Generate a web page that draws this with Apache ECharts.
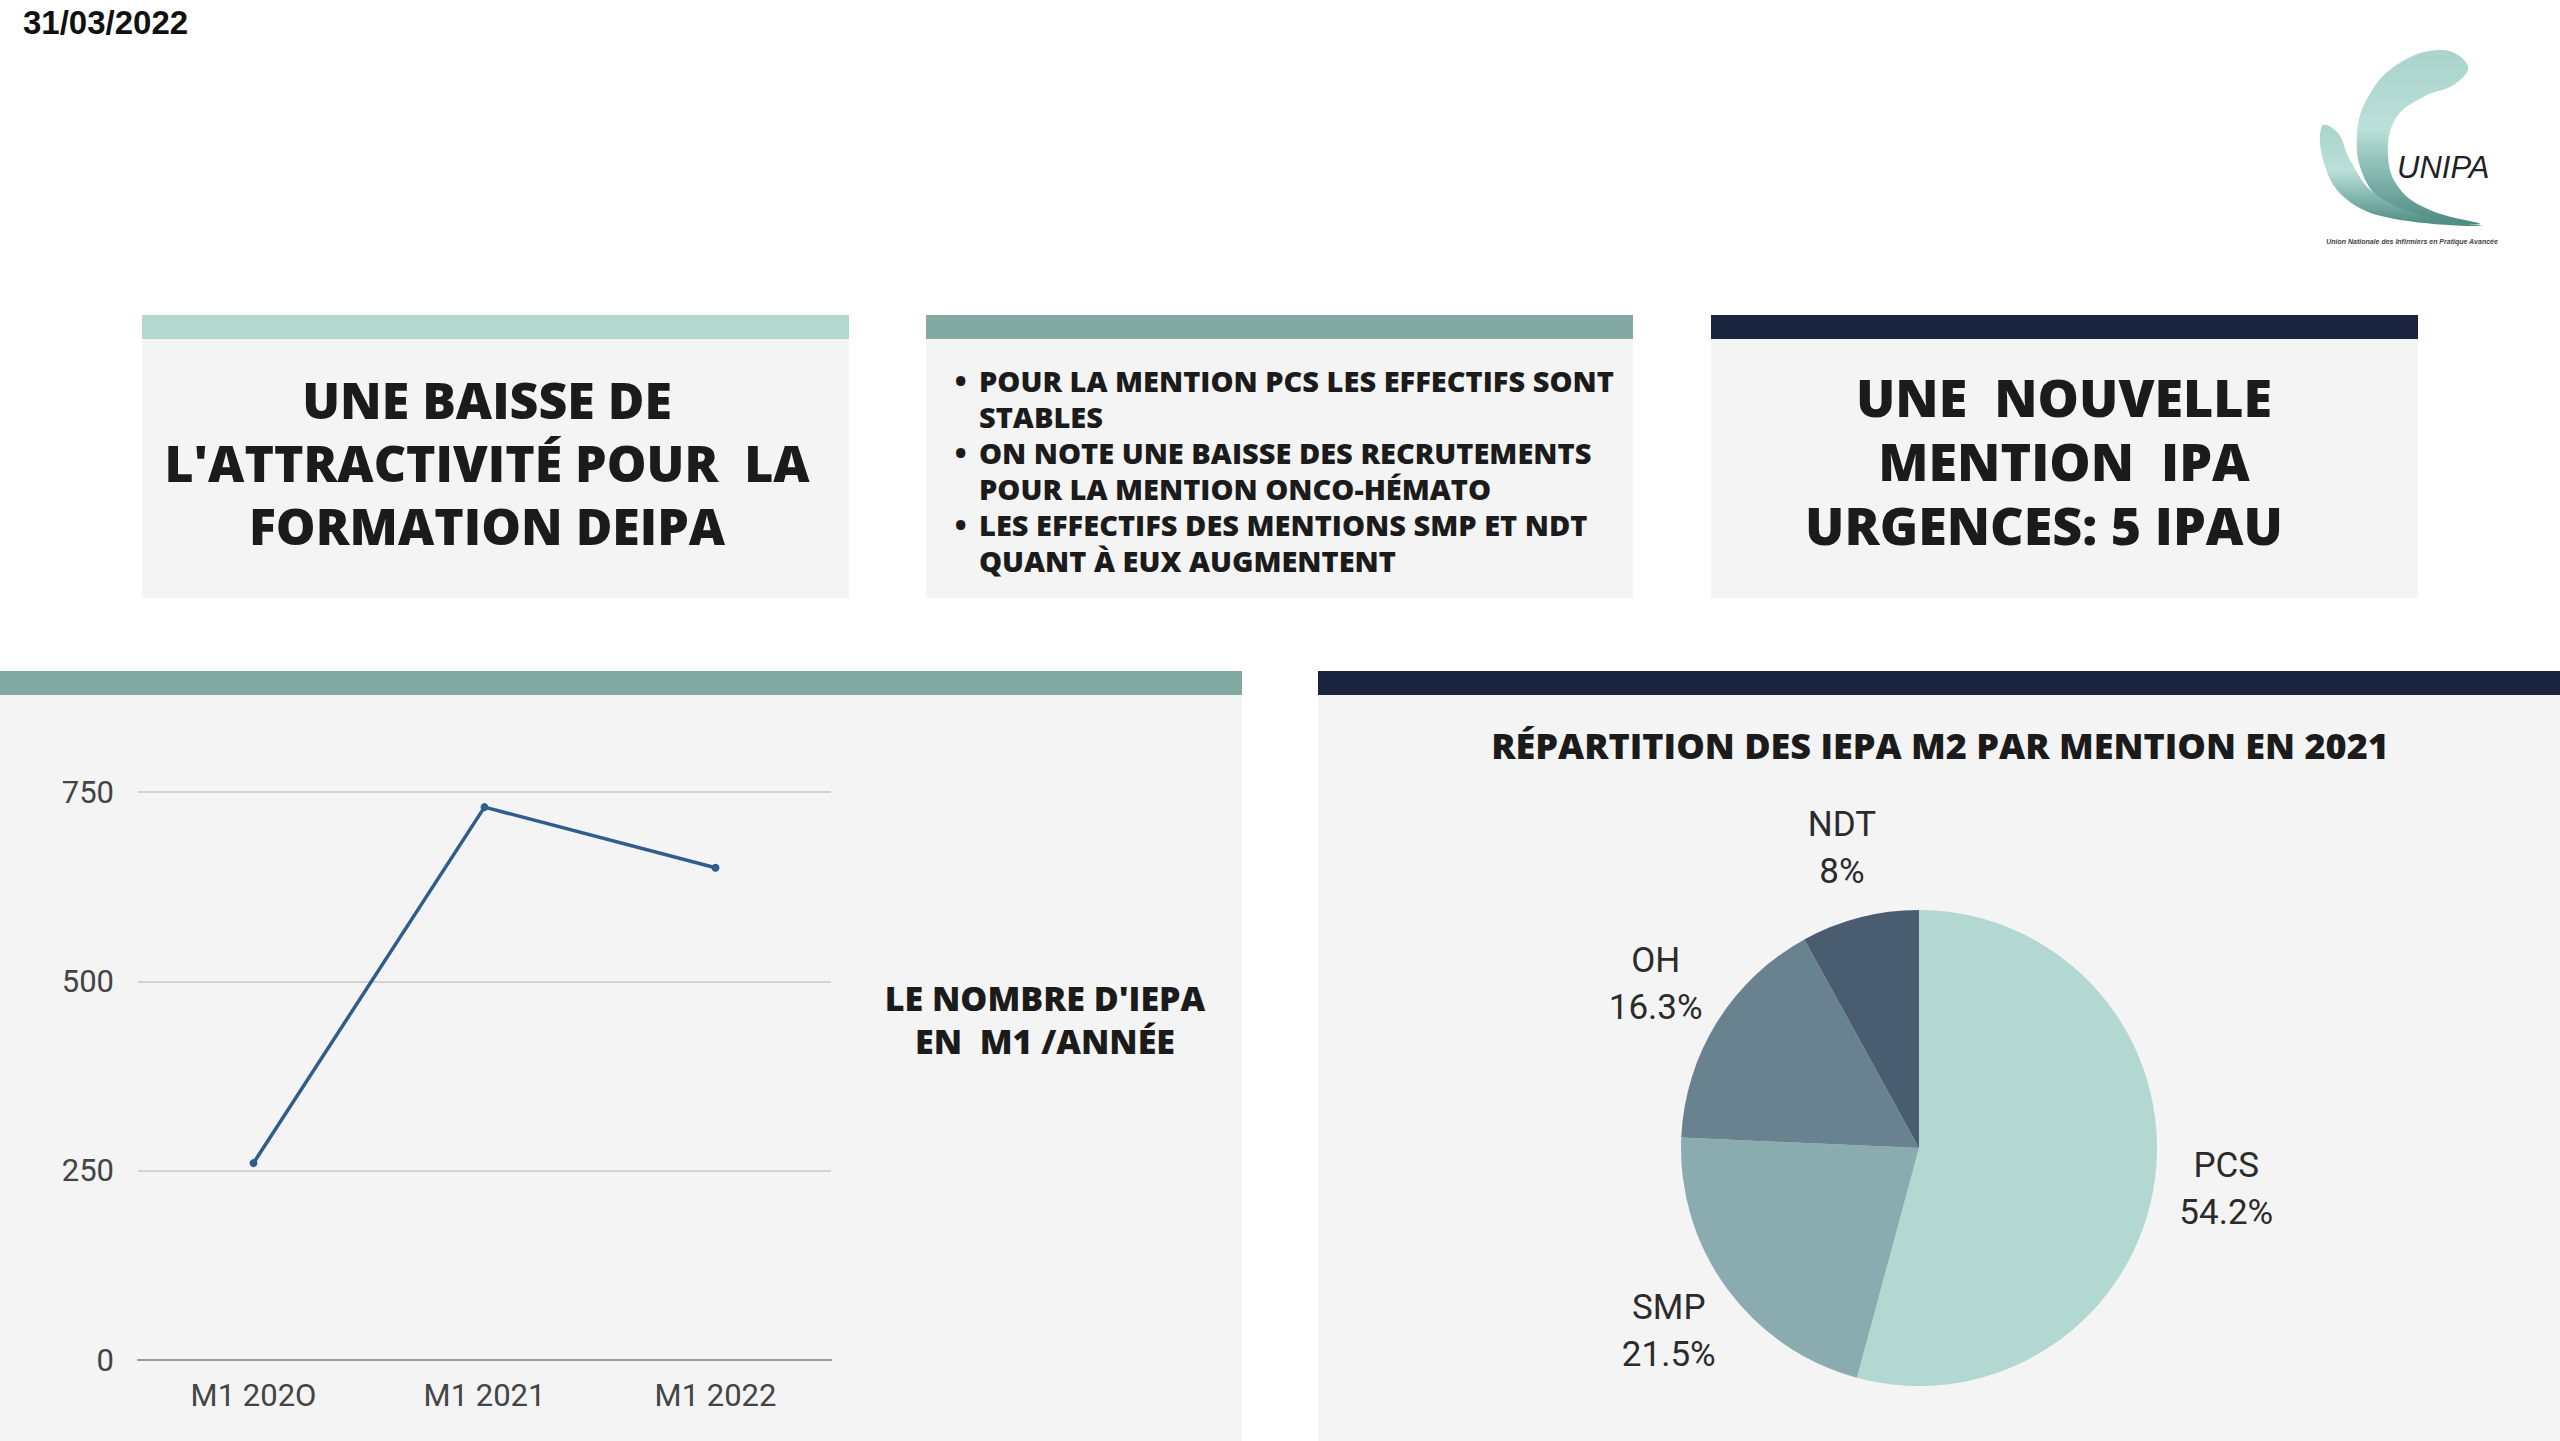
<!DOCTYPE html>
<html>
<head>
<meta charset="utf-8">
<title>IEPA 2022</title>
<script src="https://cdn.jsdelivr.net/npm/echarts@6/dist/echarts.min.js"></script>
<style>
	html, body { margin: 0; padding: 0; background: #ffffff; }
	#main { width: 2560px; height: 1441px; }
</style>
</head>
<body>
<div id="main"></div>
<script>
var annees = ['M1 202O', 'M1 2021', 'M1 2022'];
var effectifsM1 = [260, 730, 650];
var yTicks = [0, 250, 500, 750];

var mentions = ['PCS', 'SMP', 'OH', 'NDT'];
var partsM2 = [54.2, 21.5, 16.3, 8];
var couleursMentions = ['#b2d8d1', '#8aacb0', '#68838f', '#4a5c70'];

var texteDate = '31/03/2022';
var texteBoite1 = ["UNE BAISSE DE", "L'ATTRACTIVITÉ POUR  LA", "FORMATION DEIPA"];
var texteBoite2 = [
	'POUR LA MENTION PCS LES EFFECTIFS SONT',
	'STABLES',
	'ON NOTE UNE BAISSE DES RECRUTEMENTS',
	'POUR LA MENTION ONCO-HÉMATO',
	'LES EFFECTIFS DES MENTIONS SMP ET NDT',
	'QUANT À EUX AUGMENTENT'
];
var puces = ['•', '', '•', '', '•', ''];
var texteBoite3 = ['UNE  NOUVELLE', 'MENTION  IPA'];
var texteBoite3Fin = 'URGENCES: 5 IPAU';
var texteCourbe = ["LE NOMBRE D'IEPA", "EN  M1 /ANNÉE"];
var titrePie = 'RÉPARTITION DES IEPA M2 PAR MENTION EN 2021';

var fontTitre = '"Open Sans", "DejaVu Sans", sans-serif';
var fontAxe = 'Roboto, "Liberation Sans", sans-serif';
var noir = '#1b1b1b';

/**
 * une boite : fond gris + bandeau de couleur
 */
function boite(x, y, w, h, couleur) {
	return [
		{ type: 'rect', z: -10, shape: { x: x, y: y, width: w, height: h }, style: { fill: '#f4f4f4' } },
		{ type: 'rect', z: -9, shape: { x: x, y: y, width: w, height: 24 }, style: { fill: couleur } }
	];
}

function degradeLogo() {
	return new echarts.graphic.LinearGradient(0, 0, 0, 1, [
		{ offset: 0, color: '#a9d3cb' },
		{ offset: 0.45, color: '#b9e0d9' },
		{ offset: 1, color: '#4c8a80' }
	]);
}

var elements = [].concat(
	boite(142, 315, 707, 283, '#b2d8d0'),
	boite(926, 315, 707, 283, '#82aaa3'),
	boite(1711, 315, 707, 283, '#1b2540'),
	boite(0, 671, 1242, 770, '#82aaa2'),
	boite(1318, 671, 1242, 770, '#1b2540'),
	[
		{
			type: 'text', x: 23, y: 22, z: 10,
			style: { text: texteDate, font: 'bold 33px "Liberation Sans", Arial, sans-serif', fill: '#111', verticalAlign: 'middle' }
		},
		// logo UNIPA (approximatif)
		{
			type: 'polygon', z: 5,
			shape: {
				smooth: 0.4,
				points: [[2443, 50], [2398, 64], [2368, 97], [2357, 135], [2363, 175], [2385, 203], [2420, 218], [2480, 224],
					[2430, 210], [2399, 188], [2388, 155], [2396, 118], [2423, 97], [2455, 84], [2468, 66]]
			},
			style: { fill: degradeLogo() }
		},
		{
			type: 'polygon', z: 5,
			shape: {
				smooth: 0.4,
				points: [[2322, 126], [2324, 163], [2345, 198], [2390, 218], [2482, 226],
					[2423, 216], [2374, 193], [2350, 160], [2338, 133]]
			},
			style: { fill: degradeLogo() }
		},
		{
			type: 'text', x: 2397, y: 167, z: 10,
			style: { text: 'UNIPA', font: 'italic 31px "Liberation Sans", sans-serif', fill: '#222', verticalAlign: 'middle' }
		},
		{
			type: 'text', x: 2412, y: 241, z: 10,
			style: { text: 'Union Nationale des Infirmiers en Pratique Avancée', font: 'italic bold 7px "Liberation Sans", sans-serif', fill: '#444', align: 'center', verticalAlign: 'middle' }
		},
		// textes des boites
		{
			type: 'text', x: 487, y: 463, z: 10,
			style: { text: texteBoite1.join('\n'), font: '800 50px ' + fontTitre, lineHeight: 63, fill: noir, align: 'center', verticalAlign: 'middle' }
		},
		{
			type: 'text', x: 955, y: 470, z: 10,
			style: { text: puces.join('\n'), font: '800 29px ' + fontTitre, lineHeight: 36, fill: noir, align: 'left', verticalAlign: 'middle' }
		},
		{
			type: 'text', x: 979, y: 470, z: 10,
			style: { text: texteBoite2.join('\n'), font: '800 29px ' + fontTitre, lineHeight: 36, fill: noir, align: 'left', verticalAlign: 'middle' }
		},
		{
			type: 'text', x: 2064, y: 428, z: 10,
			style: { text: texteBoite3.join('\n'), font: '800 52px ' + fontTitre, lineHeight: 64, fill: noir, align: 'center', verticalAlign: 'middle' }
		},
		{
			type: 'text', x: 2044, y: 524, z: 10,
			style: { text: texteBoite3Fin, font: '800 52px ' + fontTitre, fill: noir, align: 'center', verticalAlign: 'middle' }
		},
		{
			type: 'text', x: 1045, y: 1019, z: 10,
			style: { text: texteCourbe.join('\n'), font: '800 34px ' + fontTitre, lineHeight: 43, fill: noir, align: 'center', verticalAlign: 'middle' }
		},
		{
			type: 'text', x: 1940, y: 745, z: 10,
			style: { text: titrePie, font: '800 36px ' + fontTitre, fill: noir, align: 'center', verticalAlign: 'middle' }
		}
	]
);

var myChart = echarts.init(document.getElementById('main'), null, { renderer: 'svg' });

var option = {
	backgroundColor: '#ffffff',
	animation: false,
	graphic: { elements: elements },
	grid: { left: 138, top: 792, width: 693, height: 568, containLabel: false },
	xAxis: {
		type: 'category',
		data: annees,
		boundaryGap: true,
		axisTick: { show: false },
		axisLine: { lineStyle: { color: '#9b9b9b', width: 2 } },
		axisLabel: { margin: 20, color: '#444', fontSize: 31, fontFamily: fontAxe }
	},
	yAxis: {
		type: 'value',
		min: yTicks[0],
		max: yTicks[yTicks.length - 1],
		interval: yTicks[1] - yTicks[0],
		axisLine: { show: false },
		axisTick: { show: false },
		splitLine: { lineStyle: { color: '#d3d3d3', width: 2 } },
		axisLabel: { margin: 24, color: '#444', fontSize: 31, fontFamily: fontAxe }
	},
	series: [
		{
			name: 'IEPA M1',
			type: 'line',
			data: effectifsM1,
			symbol: 'circle',
			symbolSize: 8,
			lineStyle: { color: '#2f5d8c', width: 3.5 },
			itemStyle: { color: '#2f5d8c' }
		},
		{
			name: 'IEPA M2 2021',
			type: 'pie',
			center: [1919, 1148],
			radius: 238,
			startAngle: 90,
			clockwise: true,
			data: mentions.map(function (m, i) {
				return { name: m, value: partsM2[i], itemStyle: { color: couleursMentions[i] } };
			}),
			label: {
				show: true,
				position: 'outside',
				formatter: '{b}\n{c}%',
				color: '#2b2b2b',
				fontSize: 35,
				lineHeight: 47,
				fontFamily: fontAxe
			},
			labelLine: { show: true, length: 72, length2: 0, lineStyle: { opacity: 0, width: 0 } },
			// on centre chaque étiquette au bout de son trait (invisible)
			labelLayout: function (p) {
				var pts = p.labelLinePoints;
				if (!pts || pts.length < 2) {
					return {};
				}
				return { x: pts[1][0], y: pts[1][1], align: 'center', verticalAlign: 'middle' };
			}
		}
	]
};

myChart.setOption(option);
</script>
</body>
</html>
